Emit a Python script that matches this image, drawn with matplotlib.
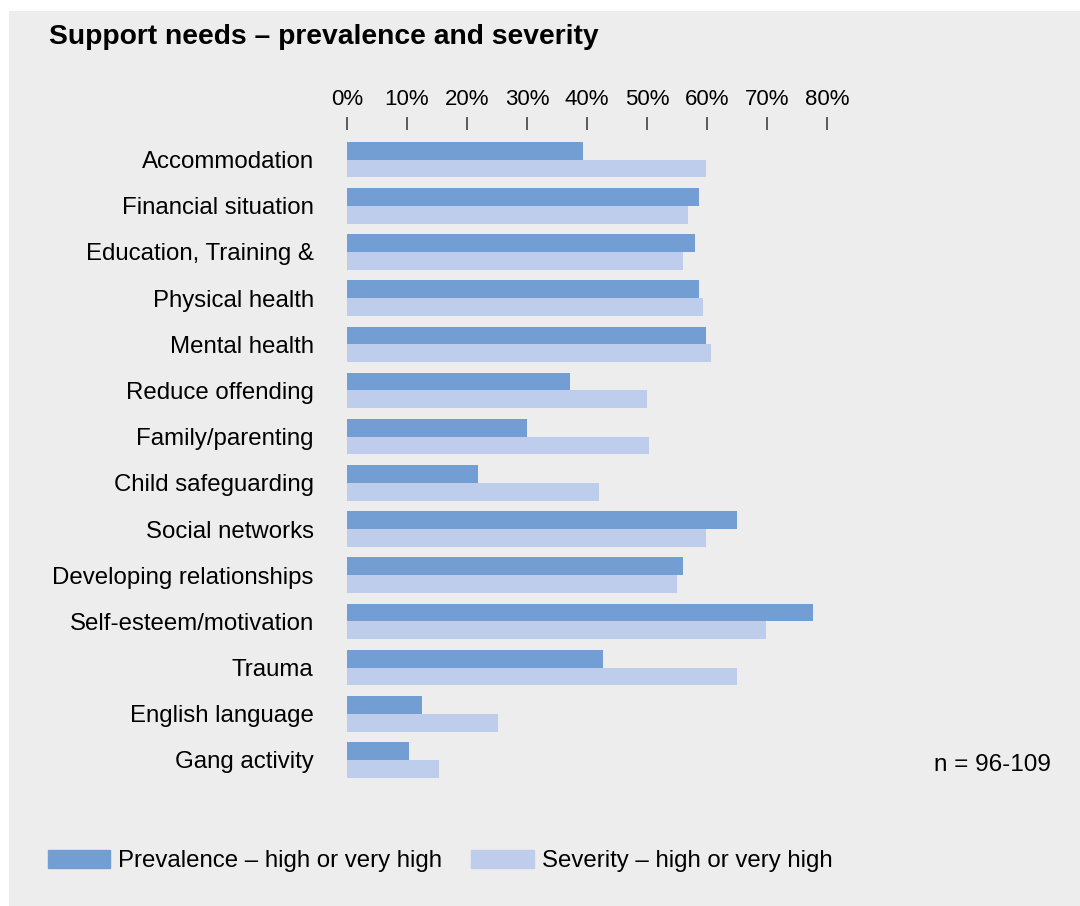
import matplotlib.pyplot as plt
import numpy as np
from matplotlib.patches import Rectangle, Patch

plt.rcParams['font.family'] = ['Liberation Sans', 'DejaVu Sans']

categories = ['Accommodation', 'Financial situation', 'Education, Training &',
              'Physical health', 'Mental health', 'Reduce offending',
              'Family/parenting', 'Child safeguarding', 'Social networks',
              'Developing relationships', 'Self-esteem/motivation', 'Trauma',
              'English language', 'Gang activity']
prevalence = [39.3, 58.7, 58.0, 58.7, 59.8, 37.2, 30.0, 21.8, 65.0, 56.0, 77.7, 42.7, 12.5, 10.3]
severity = [59.8, 56.8, 56.0, 59.3, 60.7, 50.0, 50.3, 42.0, 59.8, 55.0, 69.8, 65.0, 25.2, 15.3]
ticks = [0, 10, 20, 30, 40, 50, 60, 70, 80]

dark = '#729ed3'
light = '#bdcdeb'
bg = '#ededed'

W, H = 1080, 906
fig = plt.figure(figsize=(W / 100, H / 100), dpi=100)
fig.patch.set_facecolor('white')
# grey panel behind everything
fig.patches.append(Rectangle((9 / W, 0), 1 - 9 / W, 1 - 11 / H, transform=fig.transFigure,
                             facecolor=bg, edgecolor='none', zorder=-10))

ax = fig.add_axes([347 / W, 1 - 790 / H, 480 / W, 660 / H])
ax.set_facecolor('none')

y = np.arange(len(categories))
h = 0.385
ax.barh(y - h / 2, prevalence, height=h, color=dark)
ax.barh(y + h / 2, severity, height=h, color=light)

ax.set_xlim(0, 80)
ax.set_ylim(13.65, -0.64)
for s in ax.spines.values():
    s.set_visible(False)

ax.xaxis.tick_top()
ax.set_xticks(ticks)
ax.set_xticklabels(['{}%'.format(t) for t in ticks], fontsize=16)
ax.tick_params(axis='x', length=9.5, width=1.1, color='#333333', pad=5)
ax.set_yticks(y)
ax.set_yticklabels(categories, fontsize=17.3)
ax.tick_params(axis='y', length=0, pad=24)

fig.text(49 / W, 1 - 37 / H, 'Support needs \u2013 prevalence and severity',
         fontsize=20.3, fontweight='bold', va='center', ha='left')
fig.text(1051 / W, 1 - 765 / H, 'n = 96-109', fontsize=17.5, va='center', ha='right')

handles = [Patch(color=dark), Patch(color=light)]
fig.legend(handles, ['Prevalence \u2013 high or very high', 'Severity \u2013 high or very high'],
           loc='center left', bbox_to_anchor=(48 / W, 1 - 861 / H), ncol=2, frameon=False,
           fontsize=17.3, borderpad=0, borderaxespad=0, handlelength=2.6, handleheight=0.75,
           handletextpad=0.33, columnspacing=1.2)

fig.savefig('out.png', dpi=100)
